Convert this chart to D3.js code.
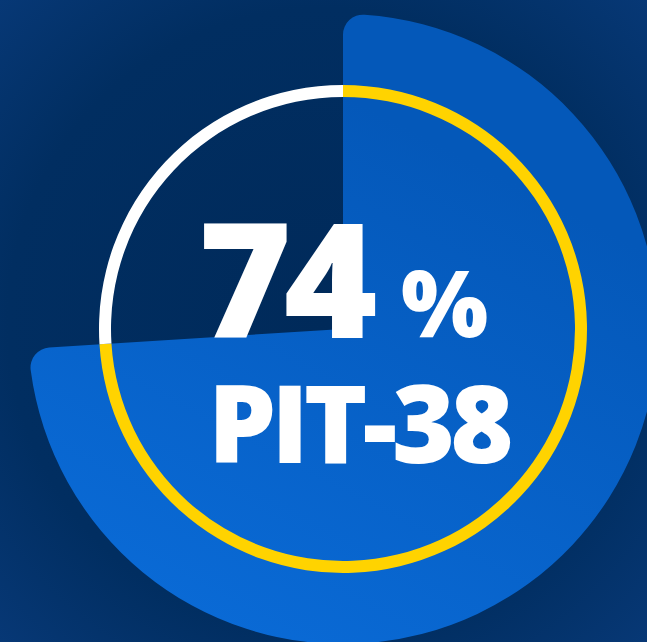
<!DOCTYPE html>
<html>
<head>
<meta charset="utf-8">
<script src="https://cdn.jsdelivr.net/npm/d3@7"></script>
<style>
  html, body { margin: 0; padding: 0; background: #012d5f; overflow: hidden; }
  svg { display: block; }
</style>
</head>
<body>
<div id="chart"></div>
<script>
// share of the PIT-38 form
let labels = ['PIT-38', 'other'],
    values = [74, 26],
    ringColors = ['#ffd300', '#ffffff'];

let width = 647,
    height = 642,
    cx = 343,
    cy = 329;

let svg = d3.select('#chart').append('svg')
    .attr('width', width)
    .attr('height', height);

let defs = svg.append('defs');

let bgGrad = defs.append('radialGradient')
    .attr('id', 'bg-grad')
    .attr('cx', '50%').attr('cy', '50%').attr('r', '75%');
bgGrad.append('stop').attr('offset', '0%').attr('stop-color', '#002a5a');
bgGrad.append('stop').attr('offset', '65%').attr('stop-color', '#012e61');
bgGrad.append('stop').attr('offset', '100%').attr('stop-color', '#083a7a');

let sliceGrad = defs.append('linearGradient')
    .attr('id', 'slice-grad')
    .attr('gradientUnits', 'userSpaceOnUse')
    .attr('x1', cx + 150).attr('y1', 20)
    .attr('x2', cx - 150).attr('y2', 600);
sliceGrad.append('stop').attr('offset', '0%').attr('stop-color', '#0458b9');
sliceGrad.append('stop').attr('offset', '100%').attr('stop-color', '#0b6edc');

svg.append('rect')
    .attr('width', width)
    .attr('height', height)
    .attr('fill', 'url(#bg-grad)');

let g = svg.append('g')
    .attr('transform', `translate(${cx}, ${cy})`);

let pie = d3.pie()
    .sort(null)
    .value(d => d);

let arcs = pie(values);

// big slice, only the first share is filled
let sliceArc = d3.arc()
    .innerRadius(0)
    .outerRadius(315)
    .cornerRadius(20);

g.append('g')
    .attr('class', 'slice_g')
    .selectAll('.slice')
    .data(arcs.slice(0, 1))
    .join('path')
    .attr('class', 'slice')
    .attr('d', sliceArc)
    .attr('fill', 'url(#slice-grad)');

// thin ring
let ringArc = d3.arc()
    .innerRadius(232)
    .outerRadius(244);

g.append('g')
    .attr('class', 'ring_g')
    .selectAll('.ring')
    .data(arcs)
    .join('path')
    .attr('class', 'ring')
    .attr('d', ringArc)
    .attr('fill', (d, i) => ringColors[i]);

// labels
let text_g = svg.append('g')
    .attr('class', 'text_g')
    .style('font-family', '"Open Sans", "DejaVu Sans", sans-serif')
    .style('font-weight', 800)
    .attr('fill', '#ffffff');

text_g.append('text')
    .attr('x', 198)
    .attr('y', 338)
    .style('font-size', '160px')
    .style('letter-spacing', '-8px')
    .text(values[0]);

text_g.append('text')
    .attr('x', 401)
    .attr('y', 337)
    .style('font-size', '92px')
    .text('%');

text_g.append('text')
    .attr('x', 208)
    .attr('y', 463)
    .style('font-size', '108px')
    .style('letter-spacing', '-5px')
    .text(labels[0]);
</script>
</body>
</html>
